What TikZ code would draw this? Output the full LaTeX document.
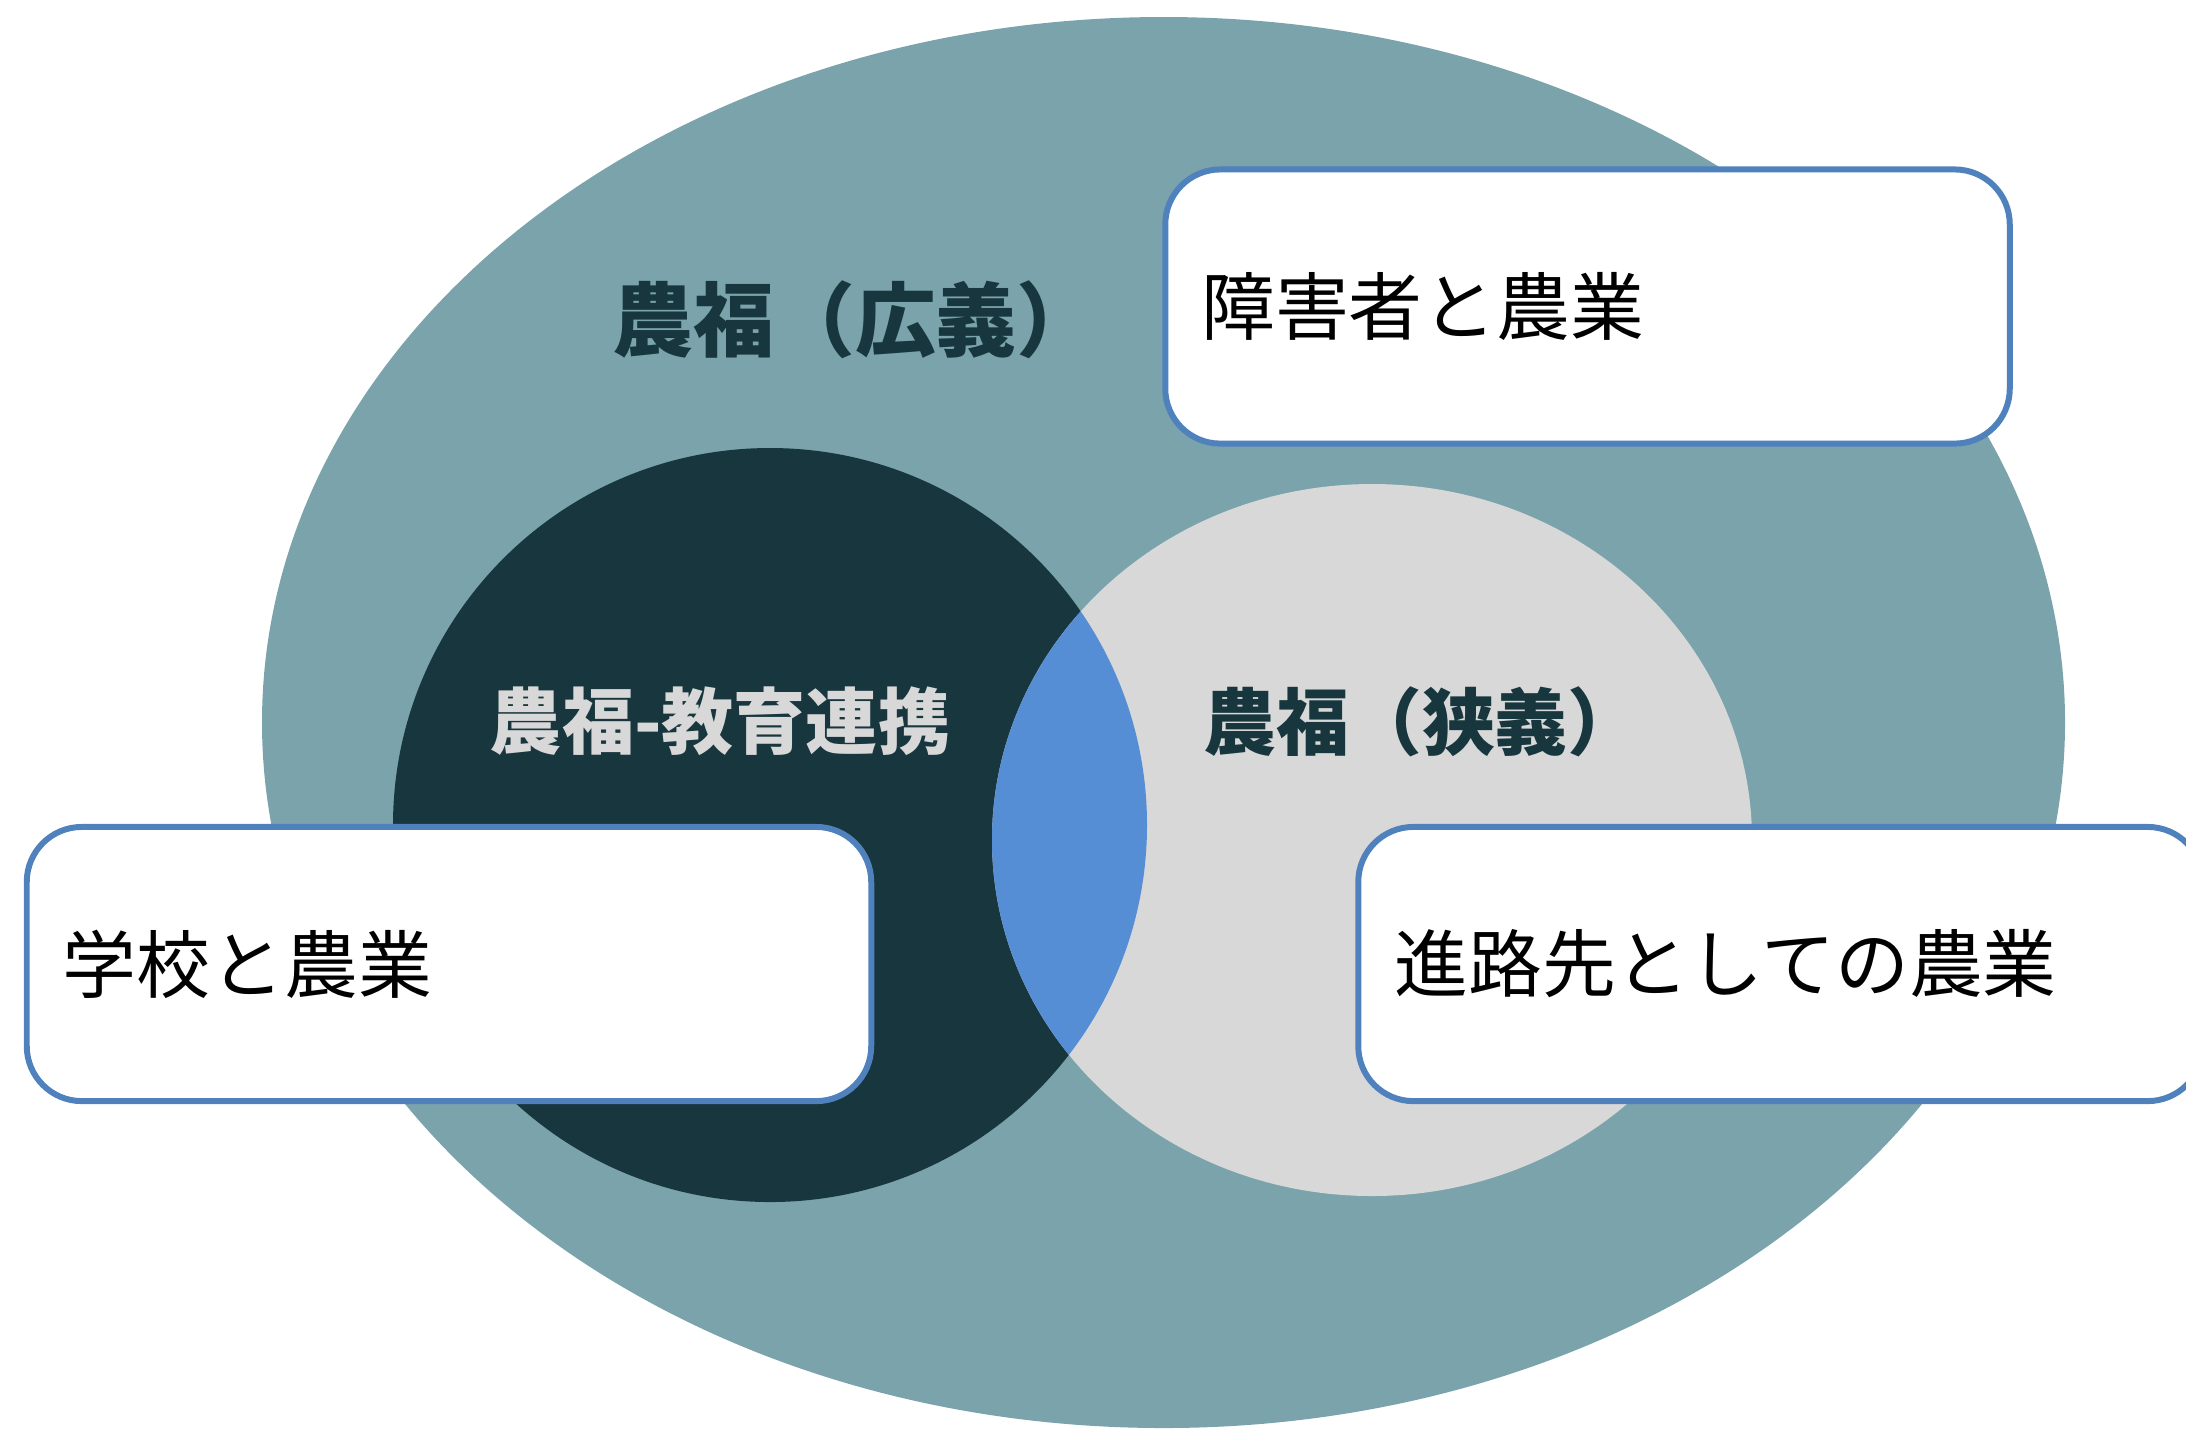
\documentclass[tikz,border=0pt]{standalone}
\usepackage{fontspec}
\setmainfont{Noto Sans CJK JP}
\definecolor{outerteal}{HTML}{7AA3AC}
\definecolor{darkteal}{HTML}{17363D}
\definecolor{lightgrey}{HTML}{D8D8D8}
\definecolor{lensblue}{HTML}{558ED5}
\definecolor{boxblue}{HTML}{4F81BD}
\begin{document}
\begin{tikzpicture}[x=0.01cm, y=-0.01cm,
    infobox/.style={draw=boxblue, line width=1.7pt, fill=white,
      rounded corners=0.55cm, minimum height=2.74cm, text width=7.72cm,
      inner xsep=0.36cm, align=left, font=\fontsize{21}{25}\selectfont},
    vennlabel/.style={font=\bfseries, inner sep=0pt}, ]
  \useasboundingbox (0,0) rectangle (2186,1429);
  \fill[outerteal] (1163.5,722.5) ellipse [x radius=901.5, y radius=705.5];
  \fill[darkteal] (770,825) circle [radius=377];
  \fill[lightgrey] (1372,840) ellipse [x radius=380, y radius=356];
  \begin{scope}
    \clip (770,825) circle [radius=377];
    \fill[lensblue] (1372,840) ellipse [x radius=380, y radius=356];
  \end{scope}
  \node[vennlabel, text=darkteal, font=\fontsize{23}{26}\selectfont\bfseries] (broad) at (855,320) {農福（広義）};
  \node[vennlabel, text=lightgrey, font=\fontsize{20.5}{24}\selectfont\bfseries] (edu) at (720,721) {農福-教育連携};
  \node[vennlabel, text=darkteal, font=\fontsize{20.7}{24}\selectfont\bfseries] (narrow) at (1422,722) {農福（狭義）};
  \node[infobox] (disabled) at (1587.5,306.5) {障害者と農業};
  \node[infobox] (school) at (449,964) {学校と農業};
  \node[infobox] (career) at (1780.5,964) {進路先としての農業};
\end{tikzpicture}
\end{document}
